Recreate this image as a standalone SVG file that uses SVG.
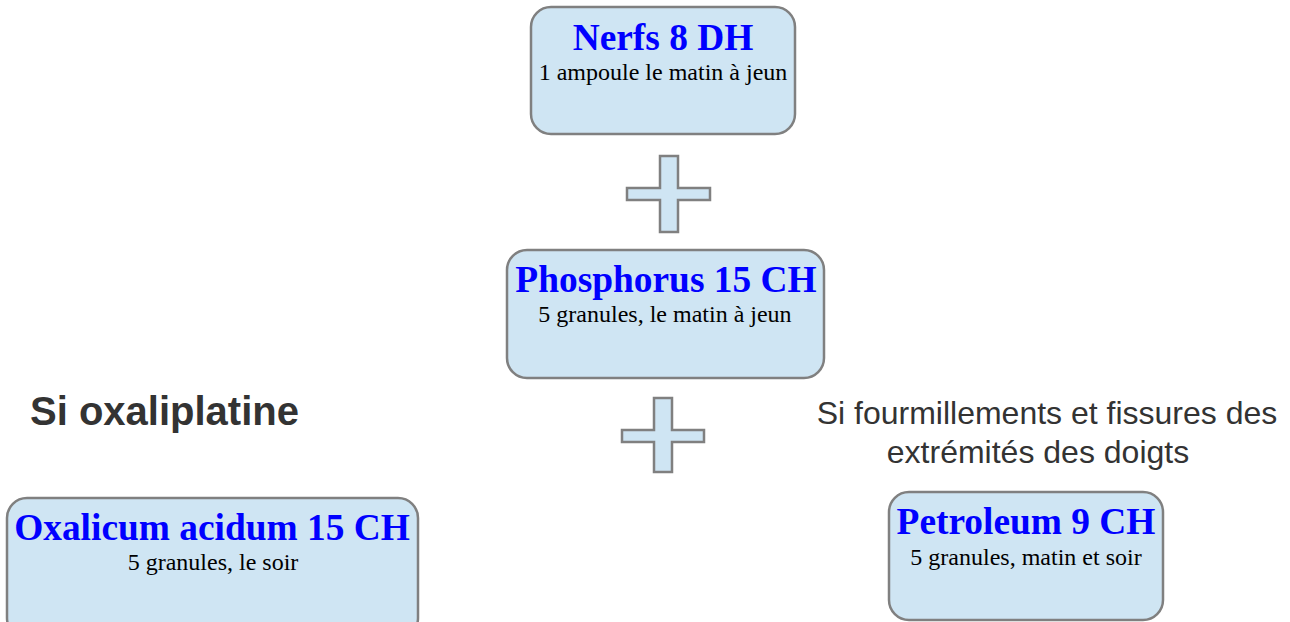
<svg xmlns="http://www.w3.org/2000/svg" width="1290" height="622" viewBox="0 0 1290 622">
<style>
.box{fill:#cfe5f3;stroke:#808080;stroke-width:2.5}
.plus{fill:#cfe5f3;stroke:#808080;stroke-width:2.5}
.t{font-family:"Liberation Serif",serif;font-weight:bold;font-size:37.4px;fill:#0000ff;text-anchor:middle}
.s{font-family:"Liberation Serif",serif;font-size:24px;fill:#000;text-anchor:middle}
.h{font-family:"Liberation Sans",Arial,sans-serif;fill:#333}
</style>
<rect width="1290" height="622" fill="#fff"/>
<g id="nerfs">
<rect class="box" x="531" y="7" width="264" height="127" rx="20"/>
<text class="t" x="663" y="50">Nerfs 8 DH</text>
<text class="s" x="663" y="80">1 ampoule le matin à jeun</text>
</g>
<g id="plus1">
<path class="plus" d="M660 156H678V188H710V200H678V232H660V200H627V188H660Z"/>
</g>
<g id="phosphorus">
<rect class="box" x="507" y="250" width="317" height="128" rx="20"/>
<text class="t" x="666" y="292">Phosphorus 15 CH</text>
<text class="s" x="665" y="322">5 granules, le matin à jeun</text>
</g>
<g id="plus2">
<path class="plus" d="M654 398H672V430H704V442H672V472H654V442H622V430H654Z"/>
</g>
<g id="label-oxali">
<text class="h" x="30" y="425" font-size="40" font-weight="bold">Si oxaliplatine</text>
</g>
<g id="label-fourm">
<text class="h" x="1047" y="424" font-size="32" text-anchor="middle">Si fourmillements et fissures des</text>
<text class="h" x="1038" y="463" font-size="32" text-anchor="middle">extrémités des doigts</text>
</g>
<g id="oxalicum">
<rect class="box" x="7" y="498" width="411" height="140" rx="20"/>
<text class="t" x="212" y="540">Oxalicum acidum 15 CH</text>
<text class="s" x="213" y="570">5 granules, le soir</text>
</g>
<g id="petroleum">
<rect class="box" x="889" y="492" width="274" height="128" rx="20"/>
<text class="t" x="1026" y="534">Petroleum 9 CH</text>
<text class="s" x="1026" y="565">5 granules, matin et soir</text>
</g>
<g id="connectors"></g>
</svg>
